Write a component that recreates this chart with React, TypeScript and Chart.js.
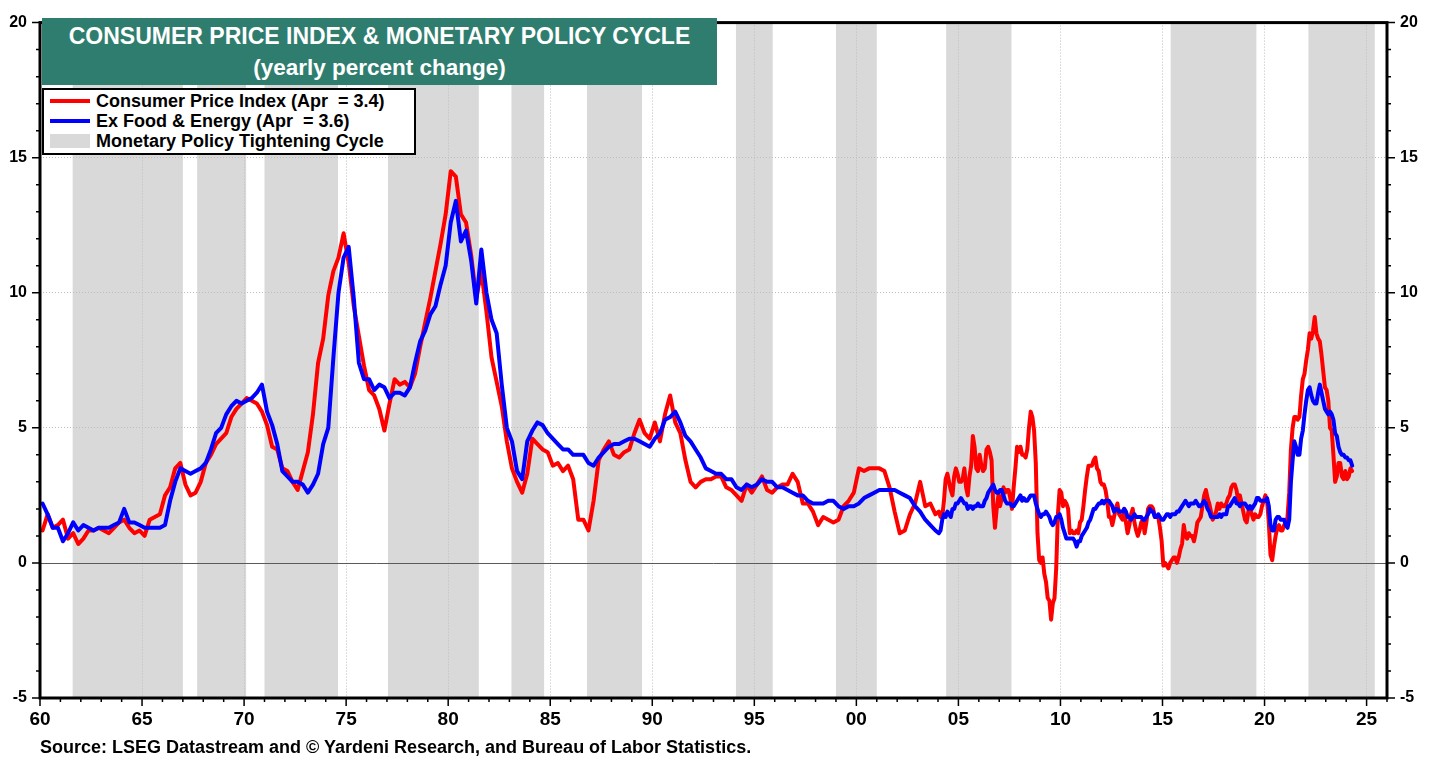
import React, { useEffect, useRef } from 'react';
import { Chart, registerables } from 'chart.js';

Chart.register(...registerables);

// Quarterly yearly % change, 1960Q1 .. 2003Q4 (4 values per year)
const cpiQuarterly1960to2003 = [
  1.2, 1.8, 1.3, 1.4, 1.6, 0.9, 1.1, 0.7, 0.9, 1.2, 1.2, 1.3, 1.2, 1.1, 1.3, 1.5,
  1.6, 1.3, 1.1, 1.2, 1.0, 1.6, 1.7, 1.8, 2.5, 2.8, 3.5, 3.7, 2.9, 2.5, 2.6, 3.0,
  3.7, 4.0, 4.4, 4.6, 4.8, 5.4, 5.7, 5.9, 6.1, 6.0, 5.9, 5.6, 5.1, 4.3, 4.2, 3.5,
  3.4, 3.0, 2.7, 3.4, 4.1, 5.5, 7.4, 8.3, 9.9, 10.8, 11.3, 12.2, 11.1, 9.5, 8.4, 7.3,
  6.4, 6.2, 5.7, 4.9, 5.9, 6.8, 6.6, 6.7, 6.5, 7.0, 8.0, 8.9, 9.8, 10.8, 11.8, 12.9,
  14.5, 14.3, 12.9, 12.6, 11.4, 9.8, 10.8, 9.3, 7.6, 6.7, 5.8, 4.5, 3.5, 3.0, 2.6, 3.3,
  4.6, 4.4, 4.2, 4.1, 3.6, 3.7, 3.4, 3.6, 3.1, 1.6, 1.6, 1.2, 2.3, 3.8, 4.2, 4.5,
  4.0, 3.9, 4.1, 4.2, 4.8, 5.3, 4.8, 4.6, 5.2, 4.5, 5.5, 6.2, 5.2, 4.8, 3.8, 3.0,
  2.8, 3.0, 3.1, 3.1, 3.2, 3.2, 2.8, 2.7, 2.5, 2.3, 2.9, 2.6, 2.9, 3.2, 2.7, 2.6,
  2.8, 2.9, 2.9, 3.3, 3.0, 2.2, 2.2, 1.9, 1.4, 1.7, 1.6, 1.5, 1.6, 2.1, 2.3, 2.6,
  3.5, 3.4, 3.5, 3.5, 3.5, 3.4, 2.8, 1.9, 1.1, 1.2, 1.8, 2.2, 3.0, 2.1, 2.2, 1.8,
];

const coreQuarterly1960to2003 = [
  2.2, 1.8, 1.3, 1.3, 0.8, 1.1, 1.5, 1.2, 1.4, 1.3, 1.2, 1.3, 1.3, 1.3, 1.4, 1.5,
  2.0, 1.5, 1.5, 1.4, 1.3, 1.3, 1.3, 1.3, 1.4, 2.3, 3.0, 3.5, 3.4, 3.3, 3.4, 3.5,
  3.7, 4.2, 4.8, 5.0, 5.5, 5.8, 6.0, 5.9, 6.0, 6.1, 6.3, 6.6, 5.6, 5.1, 4.4, 3.4,
  3.2, 3.0, 3.0, 2.9, 2.6, 2.9, 3.3, 4.4, 5.0, 7.6, 10.0, 11.3, 11.7, 9.8, 7.4, 6.8,
  6.8, 6.4, 6.6, 6.5, 6.1, 6.3, 6.3, 6.2, 6.5, 7.4, 8.2, 8.6, 9.2, 9.5, 10.3, 11.0,
  12.6, 13.4, 11.9, 12.3, 11.2, 9.6, 11.6, 10.0, 9.0, 8.5, 6.6, 5.0, 4.5, 3.4, 3.1, 4.5,
  4.9, 5.2, 5.1, 4.8, 4.6, 4.4, 4.2, 4.2, 4.0, 4.0, 4.0, 3.7, 3.6, 3.9, 4.1, 4.3,
  4.4, 4.4, 4.5, 4.6, 4.6, 4.5, 4.4, 4.3, 4.6, 4.8, 5.3, 5.4, 5.6, 5.2, 4.7, 4.5,
  4.2, 3.9, 3.5, 3.4, 3.3, 3.3, 3.1, 3.1, 2.8, 2.7, 2.9, 2.8, 2.9, 3.1, 3.0, 3.0,
  2.8, 2.8, 2.7, 2.6, 2.5, 2.5, 2.3, 2.2, 2.2, 2.2, 2.3, 2.3, 2.1, 2.0, 2.1, 2.1,
  2.2, 2.4, 2.5, 2.6, 2.7, 2.7, 2.7, 2.7, 2.6, 2.5, 2.4, 2.1, 1.9, 1.6, 1.4, 1.2,
];

// Monthly yearly % change, Jan 2004 .. Apr 2024
const cpiMonthly2004to2024 = [
  1.9, 1.7, 1.7, 2.3, 3.1, 3.3, 3.0, 2.7, 2.5, 3.2, 3.5, 3.3,
  3.0, 3.0, 3.1, 3.5, 2.8, 2.5, 3.2, 3.6, 4.7, 4.3, 3.5, 3.4,
  4.0, 3.6, 3.4, 3.5, 4.2, 4.3, 4.1, 3.8, 2.1, 1.3, 2.0, 2.5,
  2.1, 2.4, 2.8, 2.6, 2.7, 2.7, 2.4, 2.0, 2.8, 3.5, 4.3, 4.1,
  4.3, 4.0, 4.0, 3.9, 4.2, 5.0, 5.6, 5.4, 4.9, 3.7, 1.1, 0.1,
  0.0, 0.2, -0.4, -0.7, -1.3, -1.4, -2.1, -1.5, -1.3, -0.2, 1.8, 2.7,
  2.6, 2.1, 2.3, 2.2, 2.0, 1.1, 1.2, 1.1, 1.1, 1.2, 1.1, 1.5,
  1.6, 2.1, 2.7, 3.2, 3.6, 3.6, 3.6, 3.8, 3.9, 3.5, 3.4, 3.0,
  2.9, 2.9, 2.7, 2.3, 1.7, 1.7, 1.4, 1.7, 2.0, 2.2, 1.8, 1.7,
  1.6, 2.0, 1.5, 1.1, 1.4, 1.8, 2.0, 1.5, 1.2, 1.0, 1.2, 1.5,
  1.6, 1.1, 1.5, 2.0, 2.1, 2.1, 2.0, 1.7, 1.7, 1.7, 1.3, 0.8,
  -0.1, 0.0, -0.1, -0.2, 0.0, 0.1, 0.2, 0.2, 0.0, 0.2, 0.5, 0.7,
  1.4, 1.0, 0.9, 1.1, 1.0, 1.0, 0.8, 1.1, 1.5, 1.6, 1.7, 2.1,
  2.5, 2.7, 2.4, 2.2, 1.9, 1.6, 1.7, 1.9, 2.2, 2.0, 2.2, 2.1,
  2.1, 2.2, 2.4, 2.5, 2.8, 2.9, 2.9, 2.7, 2.3, 2.5, 2.2, 1.9,
  1.6, 1.5, 1.9, 2.0, 1.8, 1.6, 1.8, 1.7, 1.7, 1.8, 2.1, 2.3,
  2.5, 2.3, 1.5, 0.3, 0.1, 0.6, 1.0, 1.3, 1.4, 1.2, 1.2, 1.4,
  1.4, 1.7, 2.6, 4.2, 5.0, 5.4, 5.4, 5.3, 5.4, 6.2, 6.8, 7.0,
  7.5, 7.9, 8.5, 8.3, 8.6, 9.1, 8.5, 8.3, 8.2, 7.7, 7.1, 6.5,
  6.4, 6.0, 5.0, 4.9, 4.0, 3.0, 3.2, 3.7, 3.7, 3.2, 3.1, 3.4,
  3.1, 3.2, 3.5, 3.4,
];

const coreMonthly2004to2024 = [
  1.1, 1.2, 1.6, 1.8, 1.7, 1.9, 1.8, 1.7, 2.0, 2.0, 2.2, 2.2,
  2.3, 2.4, 2.3, 2.2, 2.2, 2.0, 2.1, 2.1, 2.0, 2.1, 2.1, 2.2,
  2.1, 2.1, 2.1, 2.3, 2.4, 2.6, 2.7, 2.8, 2.9, 2.7, 2.6, 2.6,
  2.7, 2.7, 2.5, 2.3, 2.2, 2.2, 2.2, 2.1, 2.1, 2.2, 2.3, 2.4,
  2.5, 2.3, 2.4, 2.3, 2.3, 2.4, 2.5, 2.5, 2.5, 2.2, 2.0, 1.8,
  1.7, 1.8, 1.8, 1.9, 1.8, 1.7, 1.5, 1.4, 1.5, 1.7, 1.7, 1.8,
  1.6, 1.3, 1.1, 0.9, 0.9, 0.9, 0.9, 0.9, 0.8, 0.6, 0.8, 0.8,
  1.0, 1.1, 1.2, 1.3, 1.5, 1.6, 1.8, 2.0, 2.0, 2.1, 2.2, 2.2,
  2.3, 2.2, 2.3, 2.3, 2.3, 2.2, 2.1, 1.9, 2.0, 2.0, 1.9, 1.9,
  1.9, 2.0, 1.9, 1.7, 1.7, 1.6, 1.7, 1.8, 1.7, 1.7, 1.7, 1.7,
  1.6, 1.6, 1.7, 1.8, 2.0, 1.9, 1.9, 1.7, 1.7, 1.8, 1.7, 1.6,
  1.6, 1.7, 1.8, 1.8, 1.7, 1.8, 1.8, 1.8, 1.9, 1.9, 2.0, 2.1,
  2.2, 2.3, 2.2, 2.1, 2.2, 2.2, 2.2, 2.3, 2.2, 2.1, 2.1, 2.2,
  2.3, 2.2, 2.0, 1.9, 1.7, 1.7, 1.7, 1.7, 1.7, 1.8, 1.7, 1.8,
  1.8, 1.8, 2.1, 2.1, 2.2, 2.3, 2.4, 2.2, 2.2, 2.1, 2.2, 2.2,
  2.2, 2.1, 2.0, 2.1, 2.0, 2.1, 2.2, 2.4, 2.4, 2.3, 2.3, 2.3,
  2.3, 2.4, 2.1, 1.4, 1.2, 1.2, 1.6, 1.7, 1.7, 1.6, 1.6, 1.6,
  1.4, 1.3, 1.6, 3.0, 3.8, 4.5, 4.3, 4.0, 4.0, 4.6, 4.9, 5.5,
  6.0, 6.4, 6.5, 6.2, 6.0, 5.9, 5.9, 6.3, 6.6, 6.3, 6.0, 5.7,
  5.6, 5.5, 5.6, 5.5, 5.3, 4.8, 4.7, 4.3, 4.1, 4.0, 4.0, 3.9,
  3.9, 3.8, 3.8, 3.6,
];

// Monetary policy tightening cycles (decimal years)
const bandStarts = [1961.6, 1967.7, 1971.0, 1977.05, 1983.1, 1986.8, 1994.1, 1999.0, 2004.4, 2015.4, 2022.15];
const bandEnds = [1967.0, 1970.1, 1974.6, 1981.5, 1984.7, 1989.5, 1995.9, 2001.0, 2007.6, 2019.6, 2025.4];

const xMin = 1960;
const xMax = 2026;
const yMin = -5;
const yMax = 20;

const titleLine1 = 'CONSUMER PRICE INDEX & MONETARY POLICY CYCLE';
const titleLine2 = '(yearly percent change)';
const legendLabels = [
  'Consumer Price Index (Apr  = 3.4)',
  'Ex Food & Energy (Apr  = 3.6)',
  'Monetary Policy Tightening Cycle',
];
const sourceText = 'Source: LSEG Datastream and \u00A9 Yardeni Research, and Bureau of Labor Statistics.';

function buildPoints(quarterly: number[], monthly: number[]) {
  const pts: { x: number; y: number }[] = [];
  quarterly.forEach((v, i) => pts.push({ x: 1960 + i * 0.25 + 0.125, y: v }));
  monthly.forEach((v, i) => pts.push({ x: 2004 + (i + 0.5) / 12, y: v }));
  return pts;
}

const decorPlugin = {
  id: 'decor',
  beforeDraw(chart: any) {
    const { ctx, chartArea: a, scales } = chart;
    const x = scales.x;
    ctx.save();
    ctx.fillStyle = '#ffffff';
    ctx.fillRect(0, 0, chart.width, chart.height);
    ctx.fillStyle = '#d9d9d9';
    bandStarts.forEach((s, i) => {
      const x1 = x.getPixelForValue(s);
      const x2 = x.getPixelForValue(bandEnds[i]);
      ctx.fillRect(x1, a.top, x2 - x1, a.bottom - a.top);
    });
    ctx.restore();
  },
  beforeDatasetsDraw(chart: any) {
    const { ctx, chartArea: a, scales } = chart;
    const y0 = Math.round(scales.y.getPixelForValue(0)) + 0.5;
    ctx.save();
    ctx.strokeStyle = '#5a5a5a';
    ctx.lineWidth = 1;
    ctx.beginPath();
    ctx.moveTo(a.left, y0);
    ctx.lineTo(a.right, y0);
    ctx.stroke();
    ctx.restore();
  },
  afterDraw(chart: any) {
    const { ctx, chartArea: a, scales } = chart;
    const x = scales.x;
    const y = scales.y;
    ctx.save();
    ctx.strokeStyle = '#000';
    ctx.lineWidth = 1.5;
    ctx.beginPath();
    for (let yr = xMin; yr <= xMax; yr++) {
      const px = x.getPixelForValue(yr);
      const len = yr % 5 === 0 ? 8 : 4;
      ctx.moveTo(px, a.bottom);
      ctx.lineTo(px, a.bottom + len);
    }
    for (let v = yMin; v <= yMax; v++) {
      const py = y.getPixelForValue(v);
      const len = v % 5 === 0 ? 8 : 4;
      ctx.moveTo(a.left, py);
      ctx.lineTo(a.left - len, py);
      ctx.moveTo(a.right, py);
      ctx.lineTo(a.right + len, py);
    }
    ctx.stroke();
    ctx.lineWidth = 3;
    ctx.strokeRect(a.left, a.top, a.right - a.left, a.bottom - a.top);
    ctx.restore();
  },
};

export default function App() {
  const canvasRef = useRef<HTMLCanvasElement | null>(null);

  useEffect(() => {
    if (!canvasRef.current) return;
    const gridColor = (c: any) => {
      const v = c.tick ? c.tick.value : null;
      if (v === 0) return 'rgba(0,0,0,0)';
      return '#bdbdbd';
    };
    const chart = new Chart(canvasRef.current, {
      type: 'line',
      data: {
        datasets: [
          {
            label: 'Ex Food & Energy',
            data: buildPoints(coreQuarterly1960to2003, coreMonthly2004to2024),
            borderColor: '#0000ff',
            borderWidth: 4,
            pointRadius: 0,
            tension: 0,
            order: 1,
          },
          {
            label: 'Consumer Price Index',
            data: buildPoints(cpiQuarterly1960to2003, cpiMonthly2004to2024),
            borderColor: '#ff0000',
            borderWidth: 4,
            pointRadius: 0,
            tension: 0,
            order: 2,
          },
        ],
      },
      options: {
        responsive: false,
        maintainAspectRatio: false,
        animation: false,
        devicePixelRatio: 1,
        layout: { padding: { top: 15, left: 0, right: 0, bottom: 0 } },
        plugins: { legend: { display: false }, tooltip: { enabled: false } },
        elements: { line: { borderJoinStyle: 'round', borderCapStyle: 'round' } },
        scales: {
          x: {
            type: 'linear',
            min: xMin,
            max: xMax,
            afterFit: (s: any) => { s.height = 65; },
            ticks: {
              stepSize: 5,
              autoSkip: false,
              includeBounds: false,
              maxRotation: 0,
              padding: 10,
              color: '#000',
              font: { family: '"Liberation Sans Narrow", Arial, "Liberation Sans", sans-serif', size: 19, weight: 'bold' },
              callback: (v: any) => String(Number(v) % 100).padStart(2, '0'),
            },
            grid: { color: gridColor, lineWidth: 1, drawTicks: false },
            border: { display: false, dash: [1, 2] },
          },
          y: {
            type: 'linear',
            position: 'left',
            min: yMin,
            max: yMax,
            afterFit: (s: any) => { s.width = 40; },
            ticks: {
              stepSize: 5,
              padding: 13,
              color: '#000',
              font: { family: 'Arial, "Liberation Sans", sans-serif', size: 16, weight: 'bold' },
            },
            grid: { color: gridColor, lineWidth: 1, drawTicks: false },
            border: { display: false, dash: [1, 2] },
          },
          y2: {
            type: 'linear',
            position: 'right',
            min: yMin,
            max: yMax,
            afterFit: (s: any) => { s.width = 51; },
            ticks: {
              stepSize: 5,
              padding: 13,
              color: '#000',
              font: { family: 'Arial, "Liberation Sans", sans-serif', size: 16, weight: 'bold' },
            },
            grid: { display: false, drawTicks: false },
            border: { display: false },
          },
        },
      } as any,
      plugins: [decorPlugin],
    });
    return () => chart.destroy();
  }, []);

  const font = 'Arial, "Liberation Sans", sans-serif';
  const legendRow = (top: number, marker: React.ReactNode, text: string) => (
    <div style={{ position: 'absolute', left: 0, top, height: 20, width: '100%' }}>
      {marker}
      <div style={{ position: 'absolute', left: 52, top: 0, lineHeight: '20px', fontSize: 18, fontWeight: 'bold', whiteSpace: 'pre', color: '#000' }}>{text}</div>
    </div>
  );

  return (
    <div style={{ position: 'absolute', left: 0, top: 0, width: 1438, height: 763, background: '#fff', fontFamily: font, overflow: 'hidden' }}>
      <canvas ref={canvasRef} width={1438} height={763} style={{ position: 'absolute', left: 0, top: 0, width: 1438, height: 763 }} />
      <div style={{ position: 'absolute', left: 42, top: 18, width: 675, height: 67, background: '#2F7D6E', color: '#fff', fontWeight: 'bold', textAlign: 'center' }}>
        <div style={{ position: 'absolute', left: 0, right: 0, top: 4, lineHeight: '28px', fontSize: 23, whiteSpace: 'pre' }}>{titleLine1}</div>
        <div style={{ position: 'absolute', left: 0, right: 0, top: 36, lineHeight: '28px', fontSize: 22.5, whiteSpace: 'pre' }}>{titleLine2}</div>
      </div>
      <div style={{ position: 'absolute', left: 42, top: 88, width: 374, height: 67, background: '#fff', border: '2px solid #000', boxSizing: 'border-box' }}>
        {legendRow(1, <div style={{ position: 'absolute', left: 6, top: 8, width: 40, height: 4, background: '#ff0000' }} />, legendLabels[0])}
        {legendRow(21, <div style={{ position: 'absolute', left: 6, top: 8, width: 40, height: 4, background: '#0000ff' }} />, legendLabels[1])}
        {legendRow(41, <div style={{ position: 'absolute', left: 6, top: 3, width: 40, height: 14, background: '#d9d9d9' }} />, legendLabels[2])}
      </div>
      <div style={{ position: 'absolute', left: 40, top: 737, lineHeight: '20px', fontSize: 18, fontWeight: 'bold', whiteSpace: 'pre', color: '#000' }}>{sourceText}</div>
    </div>
  );
}
